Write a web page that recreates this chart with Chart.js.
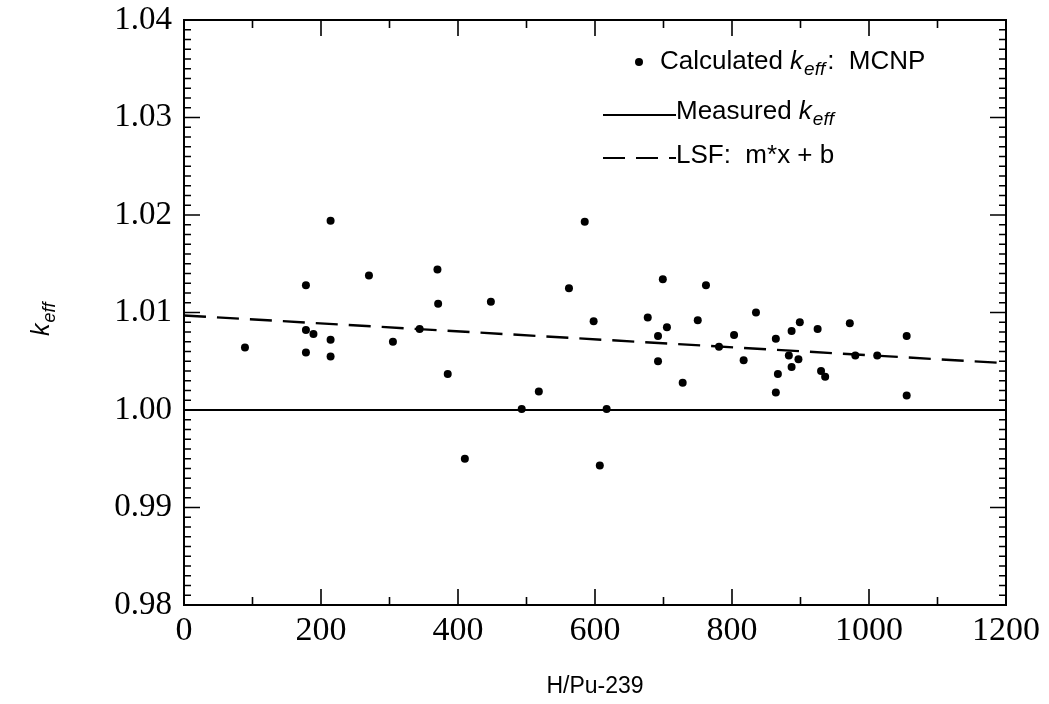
<!DOCTYPE html>
<html>
<head>
<meta charset="utf-8">
<script src="https://cdn.jsdelivr.net/npm/chart.js@4"></script>
<style>
  html,body{margin:0;padding:0;background:#fff;}
  #wrap{width:1049px;height:704px;}
</style>
</head>
<body>
<div id="wrap"><canvas id="chart"></canvas></div>
<script>
// DATA
const hpu = [89,178,178,178,189,214,214,214,270,305,344,370,371,385,410,448,493,518,562,585,598,607,617,
  677,692,692,699,705,728,750,762,781,803,817,835,864,867,864,883,887,887,897,899,925,930,936,972,980,1012,1055,1055];
const keffCalc = [1.0064,1.0128,1.0082,1.0059,1.0078,1.0194,1.0072,1.0055,1.0138,1.0070,1.0083,1.0144,1.0109,1.0037,
  0.9950,1.0111,1.0001,1.0019,1.0125,1.0193,1.0091,0.9943,1.0001,1.0095,1.0076,1.0050,1.0134,1.0085,1.0028,1.0092,
  1.0128,1.0065,1.0077,1.0051,1.0100,1.0073,1.0037,1.0018,1.0056,1.0081,1.0044,1.0052,1.0090,1.0083,1.0040,1.0034,
  1.0089,1.0056,1.0056,1.0076,1.0015];
const lineX = [0, 1200];
const measured = [1.000, 1.000];
const lsf = [1.0097, 1.0048];
const xTicks = [0,200,400,600,800,1000,1200];
const yTicks = [0.98,0.99,1.00,1.01,1.02,1.03,1.04];

const SANS = "'Liberation Sans', Arial, sans-serif";
const SERIF = "'Liberation Serif', 'Times New Roman', serif";

// helpers
function pts(xs, ys){ return xs.map((x,i)=>({x:x, y:ys[i]})); }

// draws "k" + subscript "eff" at x,y (middle baseline), returns end x
function drawKeff(ctx, x, y, size){
  ctx.font = "italic " + size + "px " + SANS;
  ctx.fillText("k", x, y);
  let w = ctx.measureText("k").width;
  ctx.font = "italic " + Math.round(size*0.72) + "px " + SANS;
  ctx.fillText("eff", x + w + 1, y + size*0.3);
  return x + w + 1 + ctx.measureText("eff").width;
}

// frame + inward ticks on all sides
const framePlugin = {
  id: "frame",
  afterDatasetsDraw(chart){
    const {ctx, chartArea:a, scales:{x, y}} = chart;
    ctx.save();
    ctx.strokeStyle = "#000";
    ctx.lineWidth = 2;
    ctx.strokeRect(a.left, a.top, a.right-a.left, a.bottom-a.top);
    ctx.lineWidth = 1.6;
    ctx.beginPath();
    for(let v=0; v<=1200; v+=100){
      let px = x.getPixelForValue(v);
      let len = v%200===0 ? 16 : 8;
      ctx.moveTo(px, a.bottom); ctx.lineTo(px, a.bottom-len);
      ctx.moveTo(px, a.top); ctx.lineTo(px, a.top+len);
    }
    for(let i=0; i<=60; i++){
      let v = 0.98 + i*0.001;
      let py = y.getPixelForValue(v);
      let len = i%10===0 ? 16 : 7;
      ctx.moveTo(a.left, py); ctx.lineTo(a.left+len, py);
      ctx.moveTo(a.right, py); ctx.lineTo(a.right-len, py);
    }
    ctx.stroke();
    ctx.restore();
  }
};

// legend + y title (need subscripts)
const textPlugin = {
  id: "texts",
  afterDraw(chart){
    const ctx = chart.ctx;
    const F = 26;
    ctx.save();
    ctx.fillStyle = "#000";
    ctx.strokeStyle = "#000";
    ctx.textBaseline = "middle";
    ctx.textAlign = "left";

    // legend row 1: dot
    ctx.beginPath(); ctx.arc(639, 62, 4, 0, Math.PI*2); ctx.fill();
    ctx.font = F + "px " + SANS;
    ctx.fillText("Calculated ", 660, 62);
    let ex = drawKeff(ctx, 660 + ctx.measureText("Calculated ").width, 62, F);
    ctx.font = F + "px " + SANS;
    ctx.fillText(":  MCNP", ex + 2, 62);

    // row 2: solid
    ctx.lineWidth = 2;
    ctx.beginPath(); ctx.moveTo(603, 115); ctx.lineTo(676, 115); ctx.stroke();
    ctx.font = F + "px " + SANS;
    ctx.fillText("Measured ", 676, 112);
    drawKeff(ctx, 676 + ctx.measureText("Measured ").width, 112, F);

    // row 3: dashed
    ctx.lineWidth = 2.2;
    ctx.setLineDash([22, 11]);
    ctx.beginPath(); ctx.moveTo(603, 158); ctx.lineTo(676, 158); ctx.stroke();
    ctx.setLineDash([]);
    ctx.font = F + "px " + SANS;
    ctx.fillText("LSF:  m*x + b", 676, 156);

    // y title
    ctx.translate(42, 320);
    ctx.rotate(-Math.PI/2);
    drawKeff(ctx, -16, 0, 25);
    ctx.restore();
  }
};

// CHART
new Chart(document.getElementById("chart"), {
  type: "scatter",
  data: {
    datasets: [
      {label:"Calculated", data: pts(hpu, keffCalc), backgroundColor:"#000", borderColor:"#000",
        pointRadius:4, pointHoverRadius:4, borderWidth:0},
      {label:"Measured", data: pts(lineX, measured), type:"line", showLine:true, borderColor:"#000",
        borderWidth:2, pointRadius:0, fill:false},
      {label:"LSF", data: pts(lineX, lsf), type:"line", showLine:true, borderColor:"#000",
        borderWidth:2.4, borderDash:[22,11], pointRadius:0, fill:false}
    ]
  },
  options: {
    responsive: true,
    maintainAspectRatio: false,
    animation: false,
    layout: {padding: {top:20, right:43, left:0, bottom:0}},
    plugins: {legend:{display:false}, tooltip:{enabled:false}},
    scales: {
      x: {
        type: "linear", min: 0, max: 1200,
        afterBuildTicks: s => { s.ticks = xTicks.map(v=>({value:v})); },
        afterFit: s => { s.height = 99; s.paddingLeft = 0; s.paddingRight = 0; },
        grid: {display:false, drawTicks:false},
        border: {display:false},
        ticks: {color:"#000", font:{family:SERIF, size:34}, padding:6, autoSkip:false, maxRotation:0,
          callback: v => String(v)},
        title: {display:true, text:"H/Pu-239", color:"#000", font:{family:SANS, size:23}, padding:{top:0, bottom:4}}
      },
      y: {
        min: 0.98, max: 1.04,
        afterBuildTicks: s => { s.ticks = yTicks.map(v=>({value:v})); },
        afterFit: s => { s.width = 184; s.paddingTop = 0; s.paddingBottom = 0; },
        grid: {display:false, drawTicks:false},
        border: {display:false},
        ticks: {color:"#000", font:{family:SERIF, size:33}, padding:12, callback: v => v.toFixed(2)}
      }
    }
  },
  plugins: [framePlugin, textPlugin]
});
</script>
</body>
</html>
